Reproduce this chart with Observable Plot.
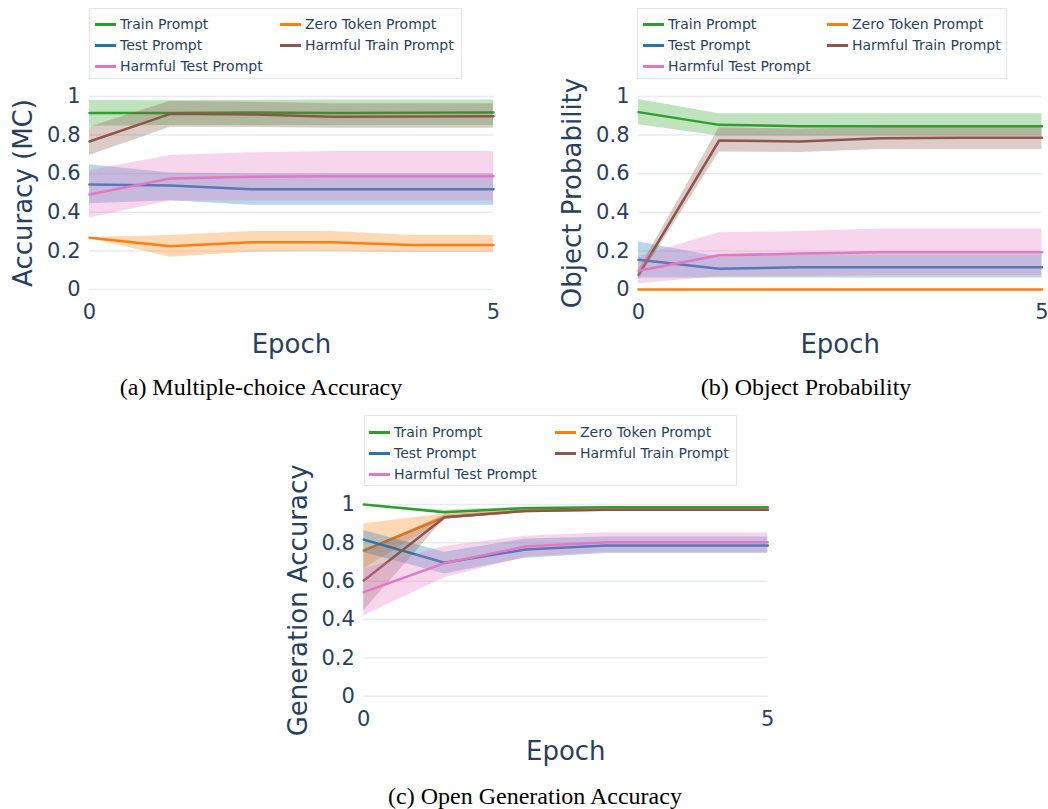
<!DOCTYPE html>
<html>
<head>
<meta charset="utf-8">
<script src="https://cdn.jsdelivr.net/npm/d3@7"></script>
<script src="https://cdn.jsdelivr.net/npm/@observablehq/plot@0.6"></script>
<style>
  html, body { margin: 0; padding: 0; background: #fff; }
  #root { position: relative; width: 1048px; height: 809px; overflow: hidden; background: #fff; }
  .panel { position: absolute; }
  .legend { position: absolute; border: 1px solid #e6e6e6; background: #fff; box-sizing: border-box;
            font-family: "DejaVu Sans", sans-serif; font-size: 14px; color: #2a3f5f; z-index: 2; }
  .legend .sym { position: absolute; width: 21px; height: 3px; }
  .legend .lab { position: absolute; white-space: nowrap; line-height: 16px; }
  .caption { position: absolute; font-family: "Liberation Serif", "Times New Roman", serif; font-size: 24px;
             color: #000; white-space: nowrap; transform: translate(-50%, -50%); }
</style>
</head>
<body>
<div id="root"></div>
<script>
// ---------- shared data ----------
const epochs = [0, 1, 2, 3, 4, 5];
const seriesNames = ["Train Prompt", "Zero Token Prompt", "Test Prompt", "Harmful Train Prompt", "Harmful Test Prompt"];
const seriesColors = ["#2ca02c", "#ff7f0e", "#1f77b4", "#8c564b", "#e377c2"];
const yTicks = [0, 0.2, 0.4, 0.6, 0.8, 1];
const xTicks = [0, 5];

// ---------- (a) Multiple-choice Accuracy ----------
const mcMean = [
  [0.915, 0.915, 0.917, 0.915, 0.916, 0.917],
  [0.268, 0.224, 0.245, 0.245, 0.231, 0.231],
  [0.544, 0.539, 0.520, 0.520, 0.520, 0.520],
  [0.767, 0.910, 0.907, 0.895, 0.897, 0.898],
  [0.492, 0.575, 0.584, 0.587, 0.587, 0.587]
];
const mcLow = [
  [0.846, 0.850, 0.850, 0.848, 0.850, 0.850],
  [0.265, 0.167, 0.193, 0.195, 0.190, 0.190],
  [0.444, 0.460, 0.436, 0.436, 0.436, 0.436],
  [0.694, 0.841, 0.840, 0.835, 0.836, 0.836],
  [0.370, 0.458, 0.458, 0.458, 0.458, 0.458]
];
const mcHigh = [
  [0.979, 0.978, 0.980, 0.982, 0.982, 0.982],
  [0.270, 0.280, 0.300, 0.300, 0.280, 0.280],
  [0.646, 0.603, 0.600, 0.600, 0.600, 0.600],
  [0.841, 0.975, 0.970, 0.962, 0.962, 0.962],
  [0.617, 0.694, 0.708, 0.715, 0.715, 0.715]
];

// ---------- (b) Object Probability ----------
const opMean = [
  [0.919, 0.853, 0.846, 0.846, 0.846, 0.846],
  [0, 0, 0, 0, 0, 0],
  [0.154, 0.107, 0.115, 0.115, 0.115, 0.115],
  [0.076, 0.772, 0.767, 0.784, 0.786, 0.786],
  [0.097, 0.177, 0.186, 0.193, 0.193, 0.193]
];
const opLow = [
  [0.853, 0.795, 0.795, 0.795, 0.795, 0.795],
  [0, 0, 0, 0, 0, 0],
  [0.060, 0.060, 0.060, 0.060, 0.060, 0.060],
  [0.050, 0.712, 0.710, 0.725, 0.725, 0.725],
  [0.030, 0.066, 0.068, 0.072, 0.072, 0.072]
];
const opHigh = [
  [0.984, 0.910, 0.910, 0.910, 0.910, 0.910],
  [0, 0, 0, 0, 0, 0],
  [0.246, 0.168, 0.180, 0.180, 0.180, 0.180],
  [0.100, 0.838, 0.830, 0.840, 0.840, 0.840],
  [0.170, 0.294, 0.300, 0.314, 0.314, 0.314]
];

// ---------- (c) Open Generation Accuracy ----------
const gaMean = [
  [1.000, 0.960, 0.981, 0.986, 0.986, 0.986],
  [0.760, 0.934, 0.966, 0.973, 0.973, 0.973],
  [0.817, 0.696, 0.765, 0.786, 0.786, 0.786],
  [0.604, 0.934, 0.966, 0.973, 0.973, 0.973],
  [0.543, 0.694, 0.781, 0.803, 0.803, 0.803]
];
const gaLow = [
  [1.000, 0.950, 0.975, 0.982, 0.982, 0.982],
  [0.665, 0.920, 0.960, 0.968, 0.968, 0.968],
  [0.750, 0.638, 0.720, 0.745, 0.745, 0.745],
  [0.447, 0.925, 0.960, 0.968, 0.968, 0.968],
  [0.420, 0.618, 0.725, 0.750, 0.750, 0.750]
];
const gaHigh = [
  [1.000, 0.970, 0.987, 0.990, 0.990, 0.990],
  [0.900, 0.950, 0.972, 0.978, 0.978, 0.978],
  [0.865, 0.751, 0.820, 0.830, 0.830, 0.830],
  [0.760, 0.945, 0.972, 0.978, 0.978, 0.978],
  [0.665, 0.781, 0.835, 0.853, 0.853, 0.853]
];

const textColor = "#2a3f5f";
const gridColor = "#e8ebf0";
const root = document.getElementById("root");

function makePanel(cfg) {
  const marks = [Plot.ruleY(yTicks, {stroke: gridColor, strokeWidth: 1.5})];
  seriesNames.forEach((name, s) => {
    const rows = epochs.map((e, i) => ({series: name, epoch: e, mean: cfg.mean[s][i], lo: cfg.low[s][i], hi: cfg.high[s][i]}));
    marks.push(Plot.areaY(rows, {x: "epoch", y1: "lo", y2: "hi", fill: "series", fillOpacity: 0.3}));
    marks.push(Plot.lineY(rows, {x: "epoch", y: "mean", stroke: "series", strokeWidth: 2.5}));
  });
  marks.push(Plot.axisY({ticks: yTicks, tickSize: 0, tickPadding: 9, fontSize: 21, tickFormat: d => String(d), label: null}));
  marks.push(Plot.axisX({ticks: xTicks, tickSize: 0, tickPadding: 15, fontSize: 21, tickFormat: d => String(d), label: null}));
  marks.push(Plot.text(["Epoch"], {frameAnchor: "bottom", dy: 55, lineAnchor: "middle", textAnchor: "middle", fontSize: 26, fill: textColor}));
  marks.push(Plot.text([cfg.ylabel], {frameAnchor: "left", dx: cfg.ylabelDx, rotate: -90, lineAnchor: "middle", textAnchor: "middle", fontSize: 26, fill: textColor}));
  const svg = Plot.plot({
    width: cfg.width, height: cfg.height,
    marginTop: cfg.mt, marginBottom: cfg.mb, marginLeft: cfg.ml, marginRight: cfg.mr,
    x: {domain: [0, 5]},
    y: {domain: [0, 1]},
    color: {domain: seriesNames, range: seriesColors},
    style: {background: "transparent", color: textColor, fontFamily: "DejaVu Sans, sans-serif", overflow: "visible"},
    marks
  });
  const wrap = document.createElement("div");
  wrap.className = "panel";
  wrap.style.left = cfg.left + "px";
  wrap.style.top = cfg.top + "px";
  wrap.appendChild(svg);
  root.appendChild(wrap);
}

function makeLegend(cfg) {
  const box = document.createElement("div");
  box.className = "legend";
  Object.assign(box.style, {left: cfg.left + "px", top: cfg.top + "px", width: cfg.width + "px", height: cfg.height + "px"});
  const slots = [[0, 0], [1, 0], [0, 1], [1, 1], [0, 2]];
  seriesNames.forEach((name, s) => {
    const [col, row] = slots[s];
    const sx = cfg.colX[col], cy = cfg.rowY[row];
    const sym = document.createElement("div");
    sym.className = "sym";
    Object.assign(sym.style, {left: sx + "px", top: (cy - 1.5) + "px", background: seriesColors[s]});
    const lab = document.createElement("div");
    lab.className = "lab";
    lab.textContent = name;
    Object.assign(lab.style, {left: (sx + 25) + "px", top: (cy - 8.5) + "px"});
    box.appendChild(sym);
    box.appendChild(lab);
  });
  root.appendChild(box);
}

function makeCaption(text, cx, cy) {
  const d = document.createElement("div");
  d.className = "caption";
  d.textContent = text;
  d.style.left = cx + "px";
  d.style.top = cy + "px";
  root.appendChild(d);
}

makePanel({mean: mcMean, low: mcLow, high: mcHigh, ylabel: "Accuracy (MC)", ylabelDx: -66,
  left: 0, top: 0, width: 520, height: 370, mt: 96, mb: 81, ml: 89, mr: 27});
makePanel({mean: opMean, low: opLow, high: opHigh, ylabel: "Object Probability", ylabelDx: -66,
  left: 520, top: 0, width: 528, height: 370, mt: 96, mb: 81, ml: 118, mr: 6.5});
makePanel({mean: gaMean, low: gaLow, high: gaHigh, ylabel: "Generation Accuracy", ylabelDx: -65,
  left: 270, top: 410, width: 520, height: 370, mt: 94, mb: 84.3, ml: 93.3, mr: 22.7});

makeLegend({left: 89, top: 8, width: 373, height: 71, colX: [5, 190], rowY: [15, 36, 57]});
makeLegend({left: 637, top: 8, width: 370, height: 71, colX: [5, 189], rowY: [15, 36, 57]});
makeLegend({left: 364, top: 415, width: 373, height: 71, colX: [4, 190], rowY: [16, 37, 58]});

makeCaption("(a) Multiple-choice Accuracy", 261, 387);
makeCaption("(b) Object Probability", 806, 387);
makeCaption("(c) Open Generation Accuracy", 535, 796);
</script>
</body>
</html>
